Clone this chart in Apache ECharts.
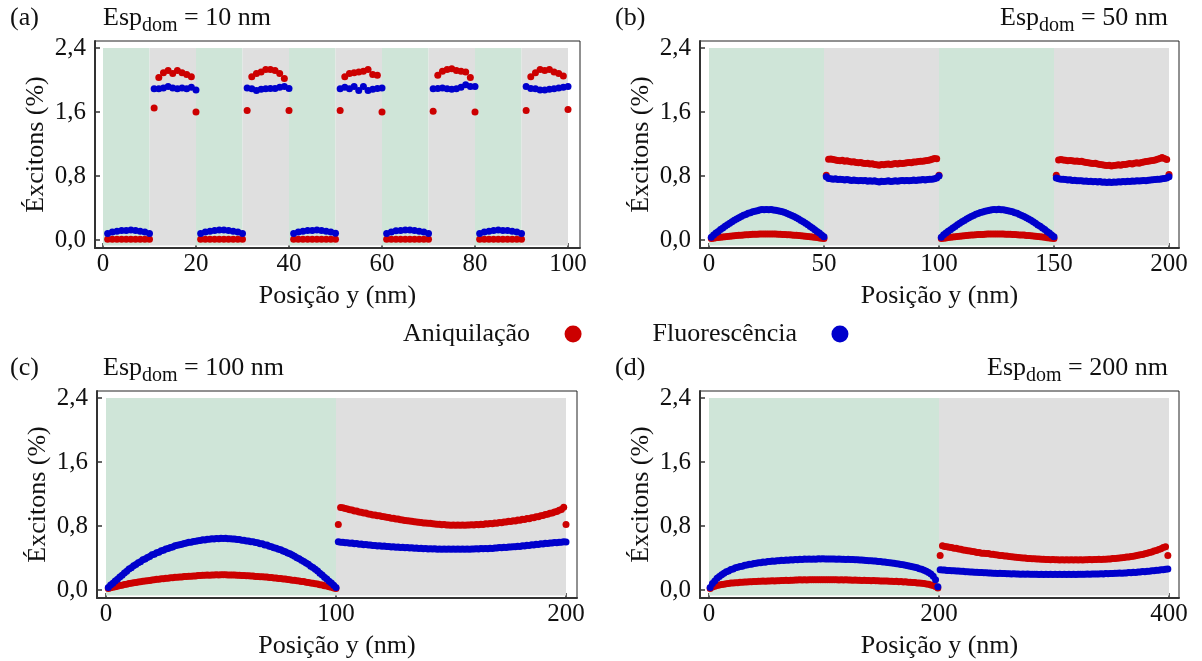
<!DOCTYPE html>
<html>
<head>
<meta charset="utf-8">
<script src="https://cdn.jsdelivr.net/npm/echarts@6/dist/echarts.min.js"></script>
<style>
  html, body { margin: 0; padding: 0; background: #fff; }
  #chart { width: 1202px; height: 661px; }
</style>
</head>
<body>
<div id="chart"></div>
<script>
// ---- dados ----
const seriesNames = ['Aniquilação', 'Fluorescência'];
const panelLabels = ['(a)', '(b)', '(c)', '(d)'];
const domainWidths = [10, 50, 100, 200];       // Esp_dom (nm)
const xTickValues = [[0, 20, 40, 60, 80, 100], [0, 50, 100, 150, 200], [0, 100, 200], [0, 200, 400]];
const yTickValues = [0, 0.8, 1.6, 2.4];
const xFirst = [1, 1, 1, 1];
const xStep = [1, 1, 1, 2];

// (a) Esp = 10 nm
const aRed = [
  .01,.01,.01,.01,.01,.01,.01,.01,.01,.01,
  1.65,2.03,2.09,2.12,2.08,2.12,2.09,2.07,2.04,1.60,
  .01,.01,.01,.01,.01,.01,.01,.01,.01,.01,
  1.62,2.04,2.08,2.10,2.13,2.13,2.12,2.08,2.02,1.62,
  .01,.01,.01,.01,.01,.01,.01,.01,.01,.01,
  1.62,2.04,2.08,2.09,2.10,2.11,2.13,2.07,2.06,1.60,
  .01,.01,.01,.01,.01,.01,.01,.01,.01,.01,
  1.61,2.06,2.11,2.13,2.14,2.12,2.11,2.10,2.03,1.60,
  .01,.01,.01,.01,.01,.01,.01,.01,.01,.01,
  1.62,2.04,2.09,2.13,2.12,2.13,2.10,2.08,2.05,1.63
];
const aBlue = [
  .08,.10,.11,.12,.12,.125,.12,.11,.10,.08,
  1.89,1.89,1.90,1.92,1.90,1.89,1.90,1.89,1.91,1.875,
  .08,.10,.11,.12,.125,.125,.12,.11,.10,.08,
  1.90,1.89,1.87,1.885,1.89,1.895,1.895,1.91,1.92,1.895,
  .08,.10,.11,.12,.12,.125,.12,.11,.10,.085,
  1.89,1.91,1.89,1.92,1.87,1.92,1.87,1.885,1.895,1.90,
  .08,.10,.115,.12,.125,.125,.12,.11,.10,.08,
  1.89,1.895,1.90,1.89,1.885,1.89,1.91,1.94,1.92,1.92,
  .08,.10,.11,.12,.125,.12,.12,.11,.10,.08,
  1.92,1.895,1.89,1.875,1.875,1.885,1.89,1.90,1.91,1.92
];

// (b) Esp = 50 nm
const bRed = [
  .019,.022,.027,.030,.034,.037,.040,.044,.047,.050,
  .052,.056,.058,.060,.063,.066,.067,.069,.071,.072,
  .073,.074,.075,.075,.076,.075,.075,.074,.074,.073,
  .071,.070,.069,.067,.065,.063,.060,.058,.055,.053,
  .050,.047,.044,.040,.037,.033,.030,.026,.022,.019,
  .81,1.01,1.012,1.005,1.0,.995,.99,.996,.985,.99,
  .98,.975,.978,.97,.965,.968,.96,.955,.958,.95,
  .953,.945,.94,.935,.944,.94,.946,.95,.944,.95,
  .955,.95,.96,.955,.96,.965,.97,.966,.975,.974,
  .98,.985,.984,.99,.995,1.0,1.01,1.02,1.016,.81,
  .018,.023,.026,.031,.033,.038,.041,.043,.047,.049,
  .053,.055,.059,.061,.063,.065,.068,.069,.070,.072,
  .074,.074,.075,.076,.075,.076,.075,.074,.073,.073,
  .072,.070,.068,.067,.064,.063,.061,.057,.055,.052,
  .050,.046,.044,.041,.036,.034,.029,.026,.023,.018,
  .81,1.00,1.005,1.0,.998,.99,.995,.99,.985,.988,
  .98,.984,.975,.97,.966,.96,.955,.96,.95,.945,
  .94,.935,.93,.935,.925,.93,.935,.94,.935,.945,
  .945,.95,.955,.95,.96,.965,.96,.97,.975,.98,
  .985,.99,.995,1.0,1.01,1.02,1.03,1.02,1.005,.82
];
const bBlue = [
  .035,.064,.088,.107,.13,.15,.171,.19,.21,.227,
  .247,.262,.279,.293,.308,.32,.333,.341,.353,.36,
  .367,.375,.38,.378,.382,.379,.38,.376,.372,.367,
  .36,.352,.343,.331,.32,.306,.294,.277,.263,.245,
  .228,.209,.19,.17,.151,.129,.107,.087,.064,.04,
  .79,.77,.765,.76,.765,.755,.76,.755,.75,.755,
  .75,.745,.75,.745,.74,.745,.74,.745,.735,.74,
  .735,.74,.73,.725,.735,.73,.735,.74,.73,.735,
  .74,.735,.74,.745,.74,.745,.74,.745,.75,.745,
  .75,.75,.755,.75,.755,.76,.76,.765,.775,.80,
  .033,.065,.086,.109,.128,.151,.169,.191,.208,.229,
  .245,.264,.277,.295,.306,.321,.331,.343,.351,.36,
  .365,.373,.377,.38,.379,.384,.379,.377,.371,.367,
  .359,.353,.341,.333,.319,.307,.293,.279,.262,.247,
  .227,.21,.189,.171,.149,.13,.106,.086,.063,.042,
  .775,.765,.76,.758,.755,.75,.752,.745,.748,.742,
  .74,.742,.735,.738,.73,.735,.728,.73,.725,.73,
  .722,.725,.72,.726,.72,.725,.722,.728,.725,.73,
  .728,.735,.732,.738,.735,.74,.738,.742,.745,.74,
  .748,.75,.752,.755,.758,.76,.765,.768,.775,.79
];

// (c) Esp = 100 nm
const cRed = [
  .02,.028,.033,.042,.047,.056,.06,.068,.072,.08,
  .083,.09,.093,.1,.103,.109,.111,.117,.119,.125,
  .127,.133,.135,.14,.142,.147,.148,.153,.154,.159,
  .16,.164,.164,.168,.168,.172,.172,.176,.176,.18,
  .18,.183,.183,.186,.185,.188,.187,.19,.189,.191,
  .19,.191,.188,.189,.186,.187,.184,.185,.181,.182,
  .178,.178,.174,.174,.17,.17,.166,.166,.162,.162,
  .157,.156,.151,.15,.145,.144,.138,.137,.131,.129,
  .123,.121,.115,.113,.107,.105,.098,.095,.088,.085,
  .078,.074,.066,.062,.054,.049,.04,.035,.026,.02,
  .82,1.03,1.027,1.018,1.012,1.003,1.001,.988,.986,.974,
  .972,.963,.961,.949,.947,.938,.936,.928,.927,.918,
  .917,.908,.907,.898,.896,.888,.887,.878,.876,.868,
  .866,.861,.859,.853,.851,.846,.844,.838,.838,.833,
  .833,.827,.826,.821,.822,.816,.818,.812,.814,.808,
  .812,.808,.811,.809,.812,.809,.814,.811,.816,.813,
  .819,.817,.823,.82,.827,.825,.832,.829,.838,.835,
  .845,.842,.851,.849,.858,.856,.866,.864,.874,.873,
  .883,.882,.893,.892,.903,.903,.916,.917,.929,.931,
  .943,.947,.959,.962,.976,.981,.997,1.005,1.035,.82
];
const cBlue = [
  .03,.062,.084,.112,.133,.162,.183,.212,.233,.262,
  .278,.302,.318,.342,.353,.377,.388,.407,.418,.441,
  .448,.467,.473,.492,.498,.512,.518,.532,.538,.552,
  .558,.567,.573,.582,.588,.597,.598,.607,.608,.617,
  .618,.627,.626,.634,.633,.64,.638,.644,.642,.647,
  .643,.646,.64,.642,.636,.637,.63,.63,.623,.622,
  .613,.612,.603,.602,.593,.592,.578,.577,.563,.562,
  .548,.542,.528,.522,.508,.502,.488,.477,.463,.452,
  .438,.422,.403,.392,.373,.357,.338,.322,.298,.282,
  .258,.237,.208,.187,.158,.137,.108,.087,.058,.03,
  .602,.596,.598,.591,.592,.585,.586,.579,.58,.573,
  .574,.567,.568,.561,.562,.555,.557,.551,.553,.547,
  .549,.543,.545,.539,.541,.535,.537,.531,.533,.528,
  .53,.524,.527,.521,.524,.518,.521,.516,.519,.514,
  .517,.512,.515,.51,.514,.509,.513,.508,.512,.508,
  .512,.508,.512,.508,.512,.509,.513,.51,.514,.511,
  .516,.513,.518,.515,.52,.517,.522,.52,.526,.524,
  .53,.528,.534,.532,.538,.536,.542,.54,.547,.545,
  .553,.551,.559,.557,.565,.563,.571,.569,.577,.575,
  .583,.581,.589,.587,.594,.592,.598,.596,.602,.60
];

// (d) Esp = 200 nm (pontos a cada 2 nm)
const dRed = [
  .02,.036,.046,.057,.062,.07,.073,.079,.081,.086,
  .087,.091,.092,.096,.096,.1,.1,.103,.103,.106,
  .106,.109,.108,.111,.11,.113,.112,.115,.114,.117,
  .116,.119,.118,.121,.12,.123,.122,.125,.124,.127,
  .125,.128,.126,.128,.127,.129,.127,.129,.128,.129,
  .128,.129,.127,.129,.127,.128,.126,.128,.125,.127,
  .124,.126,.122,.124,.121,.123,.12,.122,.118,.12,
  .117,.118,.115,.116,.113,.114,.111,.112,.109,.11,
  .107,.108,.104,.105,.101,.102,.098,.098,.094,.094,
  .089,.088,.083,.081,.075,.071,.064,.056,.044,.024,
  .43,.552,.545,.542,.533,.531,.523,.521,.512,.509,
  .5,.498,.49,.488,.48,.478,.47,.469,.46,.459,
  .456,.455,.448,.447,.44,.439,.432,.431,.424,.424,
  .418,.417,.411,.41,.405,.404,.399,.399,.394,.394,
  .39,.39,.386,.387,.383,.384,.381,.382,.379,.38,
  .378,.379,.376,.378,.375,.377,.374,.377,.375,.377,
  .375,.378,.376,.379,.377,.38,.379,.381,.38,.383,
  .382,.385,.385,.389,.389,.393,.393,.398,.399,.404,
  .405,.411,.413,.419,.422,.429,.433,.441,.445,.454,
  .459,.469,.476,.487,.495,.507,.516,.53,.541,.43
];
const dBlue = [
  .03,.082,.113,.147,.168,.192,.208,.227,.238,.257,
  .263,.277,.283,.295,.298,.309,.311,.321,.323,.332,
  .333,.341,.341,.349,.348,.355,.355,.362,.36,.367,
  .365,.371,.369,.375,.373,.379,.376,.382,.379,.385,
  .381,.386,.383,.388,.384,.389,.385,.39,.386,.39,
  .388,.387,.389,.386,.388,.385,.386,.384,.385,.382,
  .383,.38,.381,.377,.378,.374,.375,.371,.37,.366,
  .366,.361,.361,.355,.355,.349,.349,.343,.341,.337,
  .333,.329,.325,.32,.315,.309,.304,.297,.292,.284,
  .277,.267,.258,.247,.234,.218,.199,.172,.128,.04,
  .253,.249,.249,.245,.245,.241,.241,.237,.237,.233,
  .233,.229,.229,.225,.225,.221,.222,.218,.219,.215,
  .216,.212,.213,.209,.21,.206,.208,.205,.206,.203,
  .204,.201,.202,.199,.201,.198,.2,.197,.199,.196,
  .198,.196,.197,.195,.197,.195,.196,.194,.196,.194,
  .196,.194,.196,.194,.196,.194,.197,.195,.197,.195,
  .198,.196,.198,.197,.199,.198,.2,.199,.201,.2,
  .203,.201,.205,.203,.207,.205,.209,.208,.211,.21,
  .214,.212,.218,.216,.222,.22,.226,.224,.23,.229,
  .235,.234,.241,.24,.247,.246,.253,.252,.258,.261
];

const redData = [aRed, bRed, cRed, dRed];
const blueData = [aBlue, bBlue, cBlue, dBlue];

// ---- layout ----
const FONT = 'Liberation Serif';
const TXT = '#111';
const RED = '#cc0000';
const BLUE = '#0000cc';
const GREEN_BG = '#cfe5d8';
const GRAY_BG = '#dfdfdf';

const grids = [
  { left: 95, top: 41, width: 485, height: 207 },
  { left: 700, top: 41, width: 479, height: 207 },
  { left: 97, top: 391, width: 480, height: 207 },
  { left: 700, top: 391, width: 479, height: 207 }
];
const xRanges = [[-1.72, 102.58], [-3.91, 204.35], [-3.91, 204.78], [-7.83, 408.7]];
const yRange = [-0.1, 2.4875];

const chart = echarts.init(document.getElementById('chart'), null, { renderer: 'canvas' });

function toPoints(ys, k) {
  return ys.map((y, i) => [xFirst[k] + i * xStep[k], y]);
}

function shading(k) {
  const w = domainWidths[k];
  const end = xTickValues[k][xTickValues[k].length - 1];
  const areas = [];
  for (let x = 0, n = 0; x < end; x += w, n++) {
    areas.push([
      { xAxis: x, yAxis: -0.07, itemStyle: { color: n % 2 === 0 ? GREEN_BG : GRAY_BG } },
      { xAxis: x + w, yAxis: 2.4 }
    ]);
  }
  return areas;
}

const tickText = { fontFamily: FONT, fontSize: 25, color: TXT };
const nameText = { fontFamily: FONT, fontSize: 26, color: TXT };

const option = {
  animation: false,
  backgroundColor: '#fff',
  title: [],
  legend: {
    data: seriesNames,
    left: 403,
    top: 321,
    padding: 0,
    align: 'right',
    icon: 'circle',
    itemWidth: 76,
    itemHeight: 17,
    itemGap: 71,
    textStyle: nameText
  },
  grid: grids.map(g => Object.assign({ show: true, borderColor: '#222', borderWidth: 1, backgroundColor: 'transparent' }, g)),
  xAxis: [],
  yAxis: [],
  series: []
};

for (let k = 0; k < 4; k++) {
  const rightSide = k % 2 === 1;
  const rowTop = k < 2 ? 0 : 350;
  option.title.push({
    text: panelLabels[k],
    left: rightSide ? 615 : 10,
    top: rowTop + 5,
    padding: 0,
    textStyle: { fontFamily: FONT, fontSize: 26, fontWeight: 'normal', color: TXT }
  });
  const t = {
    text: '{n|Esp}{s|dom}{n| = ' + domainWidths[k] + ' nm}',
    top: rowTop + 5,
    padding: 0,
    textStyle: {
      fontWeight: 'normal',
      rich: {
        n: { fontFamily: FONT, fontSize: 26, fontWeight: 'normal', color: TXT, lineHeight: 30, verticalAlign: 'top' },
        s: { fontFamily: FONT, fontSize: 20, fontWeight: 'normal', color: TXT, lineHeight: 22, padding: [11, 0, 0, 0], verticalAlign: 'top' }
      }
    }
  };
  if (rightSide) t.right = 34; else t.left = 103;
  option.title.push(t);

  option.xAxis.push({
    type: 'value',
    gridIndex: k,
    min: xRanges[k][0],
    max: xRanges[k][1],
    name: 'Posição y (nm)',
    nameLocation: 'middle',
    nameGap: 35,
    nameTextStyle: nameText,
    axisLine: { show: true, onZero: false, lineStyle: { color: '#333', width: 2 } },
    axisTick: { show: true, inside: true, length: 5, customValues: xTickValues[k], lineStyle: { color: '#333', width: 1.5 } },
    axisLabel: Object.assign({ customValues: xTickValues[k], margin: 4 }, tickText),
    splitLine: { show: false }
  });
  option.yAxis.push({
    type: 'value',
    gridIndex: k,
    min: yRange[0],
    max: yRange[1],
    name: 'Éxcitons (%)',
    nameLocation: 'middle',
    nameGap: 46,
    nameRotate: 90,
    nameTextStyle: nameText,
    axisLine: { show: true, onZero: false, lineStyle: { color: '#333', width: 2 } },
    axisTick: { show: true, inside: true, length: 5, customValues: yTickValues, lineStyle: { color: '#333', width: 1.5 } },
    axisLabel: Object.assign({
      customValues: yTickValues,
      margin: 9,
      formatter: v => v.toFixed(1).replace('.', ',')
    }, tickText),
    splitLine: { show: false }
  });

  option.series.push({
    name: seriesNames[0],
    type: 'scatter',
    xAxisIndex: k,
    yAxisIndex: k,
    symbolSize: 7,
    itemStyle: { color: RED, opacity: 1 },
    data: toPoints(redData[k], k),
    markArea: { silent: true, data: shading(k) },
    z: 2
  });
  option.series.push({
    name: seriesNames[1],
    type: 'scatter',
    xAxisIndex: k,
    yAxisIndex: k,
    symbolSize: 7,
    itemStyle: { color: BLUE, opacity: 1 },
    data: toPoints(blueData[k], k),
    z: 3
  });
}

chart.setOption(option);
</script>
</body>
</html>
